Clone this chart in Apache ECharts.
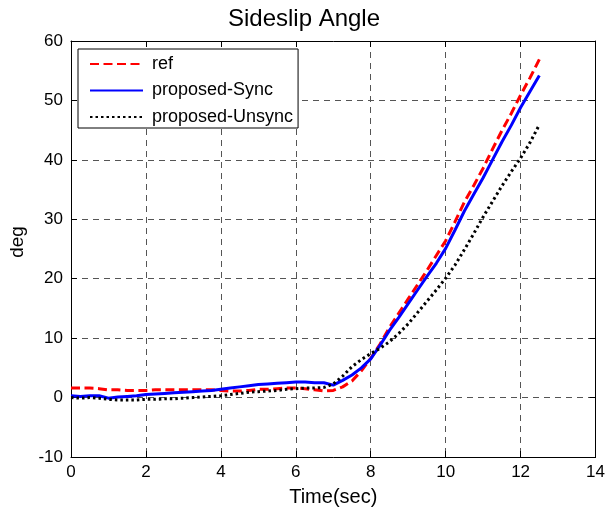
<!DOCTYPE html>
<html>
<head>
<meta charset="utf-8">
<script src="https://cdn.jsdelivr.net/npm/echarts@6/dist/echarts.min.js"></script>
<style>
html,body{margin:0;padding:0;background:#fff;}
#chart{width:608px;height:513px;}
</style>
</head>
<body>
<div id="chart"></div>
<script>
var titleText = 'Sideslip Angle';
var xName = 'Time(sec)';
var yName = 'deg';
var seriesNames = ['ref', 'proposed-Sync', 'proposed-Unsync'];

var times = [0,0.25,0.5,0.75,1,1.25,1.5,1.75,2,2.25,2.5,2.75,3,3.25,3.5,3.75,4,4.25,4.5,4.75,5,5.25,5.5,5.75,6,6.25,6.5,6.75,7,7.25,7.5,7.75,8,8.25,8.5,8.75,9,9.25,9.5,9.75,10,10.25,10.5,10.75,11,11.25,11.5,11.75,12,12.25,12.5];

var refVals = [1.6,1.6,1.6,1.5,1.3,1.3,1.2,1.2,1.2,1.3,1.3,1.3,1.3,1.3,1.3,1.3,1.2,1.1,1.1,1.2,1.4,1.4,1.5,1.6,1.6,1.5,1.3,1.1,1.2,1.8,2.8,4.5,6.6,9.0,11.8,14.2,16.6,19.0,21.4,23.9,26.4,29.6,32.9,35.7,38.6,41.8,44.9,47.8,50.9,53.8,56.9];

var syncVals = [0.3,0.2,0.3,0.3,-0.1,0.1,0.2,0.3,0.5,0.6,0.7,0.8,0.9,1.0,1.1,1.2,1.4,1.6,1.8,2.0,2.2,2.3,2.4,2.5,2.6,2.6,2.5,2.5,2.1,2.9,3.8,5.0,6.5,8.8,11.3,13.5,15.8,18.1,20.4,22.6,25.1,28.2,31.4,34.2,37.0,40.0,43.0,45.8,48.8,51.5,54.2];

var unsyncVals = [0.0,-0.1,0.0,-0.1,-0.3,-0.4,-0.4,-0.4,-0.3,-0.3,-0.2,-0.2,-0.1,0.0,0.1,0.2,0.3,0.5,0.7,0.9,1.0,1.1,1.2,1.4,1.5,1.6,1.6,1.7,2.3,3.6,5.2,6.4,7.4,8.3,9.4,10.8,12.4,14.3,16.2,18.1,20.1,22.3,24.9,27.6,30.4,33.0,35.6,38.0,40.3,42.9,45.9];

var xTicks = {min: 0, max: 14, interval: 2};
var yTicks = {min: -10, max: 60, interval: 10};

function pairs(vals) { return times.map(function (t, i) { return [t, vals[i]]; }); }

var FONT = 'Liberation Sans, Arial, sans-serif';
var chart = echarts.init(document.getElementById('chart'), null, {renderer: 'canvas'});

var gridLine = {show: true, lineStyle: {color: '#555', type: [6, 5], width: 1}};
var axisLine = {show: true, onZero: false, lineStyle: {color: '#000', width: 1}};
var tick = {show: true, inside: true, length: 6, lineStyle: {color: '#000'}};

var option = {
  backgroundColor: '#fff',
  animation: false,
  title: {
    text: titleText, left: 'center', top: 2,
    textStyle: {fontFamily: FONT, fontSize: 24, fontWeight: 'normal', color: '#000'}
  },
  grid: {left: 70, right: 9, top: 41, bottom: 56, containLabel: false},
  legend: {
    orient: 'vertical', left: 78, top: 49,
    padding: [6, 5, 2, 11],
    itemWidth: 53, itemHeight: 14, itemGap: 8.5,
    backgroundColor: '#fff', borderColor: '#000', borderWidth: 1,
    itemStyle: {color: 'rgba(0,0,0,0)', borderWidth: 0, opacity: 0},
    textStyle: {fontFamily: FONT, fontSize: 18, color: '#000', padding: [0, 0, 0, 4]},
    data: seriesNames
  },
  xAxis: [{
    type: 'value', min: xTicks.min, max: xTicks.max, interval: xTicks.interval,
    name: xName, nameLocation: 'middle', nameGap: 30,
    nameTextStyle: {fontFamily: FONT, fontSize: 20, color: '#000'},
    axisLine: axisLine, axisTick: tick, splitLine: gridLine,
    axisLabel: {fontFamily: FONT, fontSize: 17, color: '#000', margin: 7}
  }, {
    type: 'value', position: 'top', min: xTicks.min, max: xTicks.max, interval: xTicks.interval,
    axisLine: axisLine, axisTick: tick, splitLine: {show: false}, axisLabel: {show: false}
  }],
  yAxis: [{
    type: 'value', min: yTicks.min, max: yTicks.max, interval: yTicks.interval,
    name: yName, nameLocation: 'middle', nameGap: 44, nameRotate: 90,
    nameTextStyle: {fontFamily: FONT, fontSize: 19, color: '#000', padding: [0, 0, 0, 14]},
    axisLine: axisLine, axisTick: tick, splitLine: gridLine,
    axisLabel: {fontFamily: FONT, fontSize: 17, color: '#000', margin: 8}
  }, {
    type: 'value', position: 'right', min: yTicks.min, max: yTicks.max, interval: yTicks.interval,
    axisLine: axisLine, axisTick: tick, splitLine: {show: false}, axisLabel: {show: false}
  }],
  series: [{
    name: seriesNames[0], type: 'line', data: pairs(refVals), showSymbol: false, symbol: 'none',
    z: 3, lineStyle: {color: '#ff0000', width: 3, type: [9, 4.5]}, itemStyle: {color: '#ff0000'}
  }, {
    name: seriesNames[1], type: 'line', data: pairs(syncVals), showSymbol: false, symbol: 'none',
    z: 4, lineStyle: {color: '#0000ff', width: 3, type: 'solid'}, itemStyle: {color: '#0000ff'}
  }, {
    name: seriesNames[2], type: 'line', data: pairs(unsyncVals), showSymbol: false, symbol: 'none',
    z: 5, lineStyle: {color: '#000000', width: 3, type: [2.5, 3]}, itemStyle: {color: '#000000'}
  }]
};
chart.setOption(option);
</script>
</body>
</html>
